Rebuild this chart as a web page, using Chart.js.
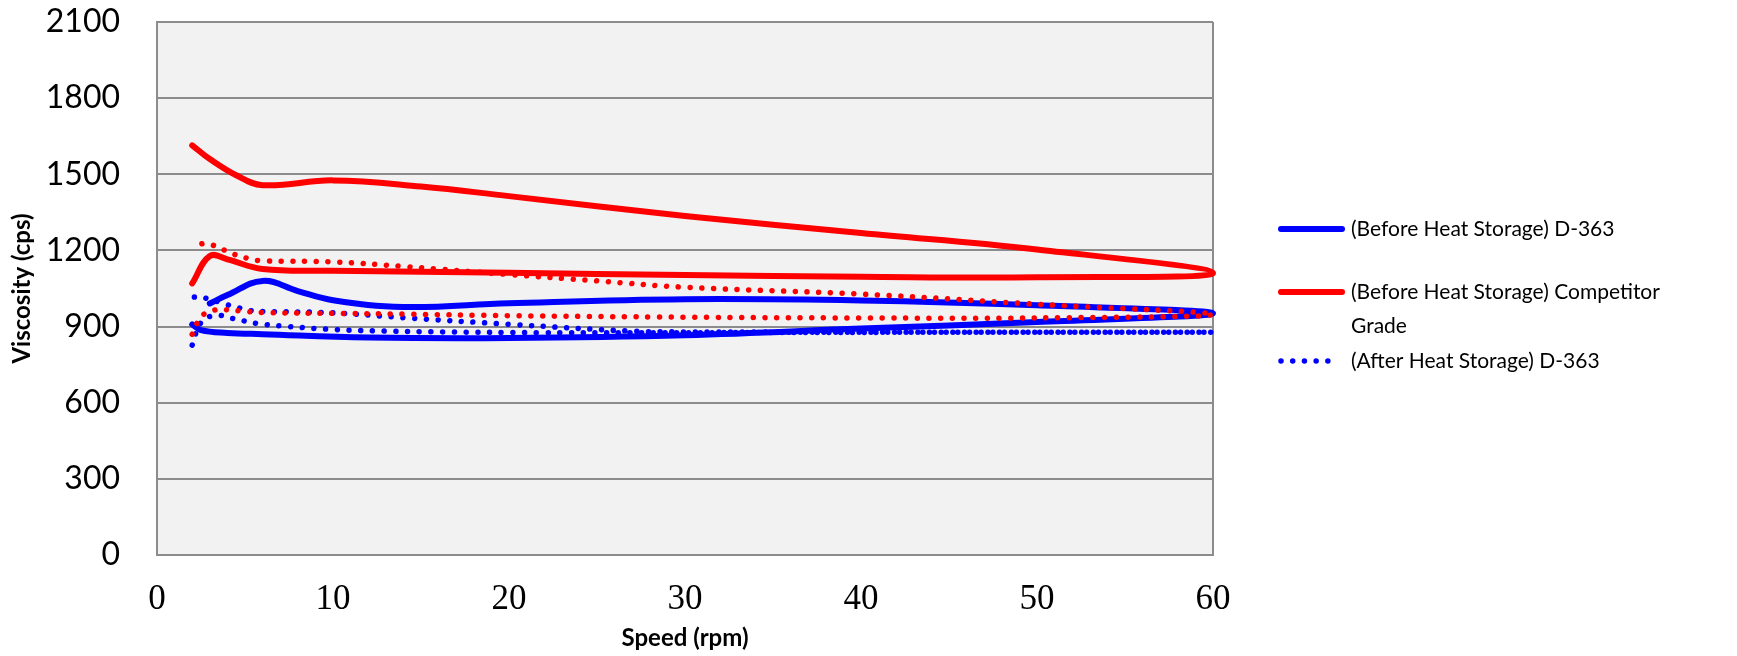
<!DOCTYPE html>
<html>
<head>
<meta charset="utf-8">
<script src="https://cdn.jsdelivr.net/npm/chart.js@4/dist/chart.umd.min.js"></script>
<style>
  html, body { margin: 0; padding: 0; background: #fff; }
  #wrap { position: relative; width: 1737px; height: 656px; }
</style>
</head>
<body>
<div id="wrap"><canvas id="viscosity-chart"></canvas></div>
<script>
// Values. Each run goes up in speed to 60 rpm and back down again.
const speedBeforeD363 = [2, 2.5, 4, 6, 12, 20, 30, 40, 50, 60, 50, 40, 30, 20, 14, 10, 8, 6, 4, 3];
const viscBeforeD363 = [909, 886, 875, 870, 857, 855, 866, 892, 918, 952, 984, 1003, 1008, 992, 977, 1004, 1040, 1080, 1024, 991];

const speedBeforeComp = [2, 3, 4, 6, 10, 20, 30, 40, 50, 60, 50, 40, 30, 20, 15, 10, 6, 4.5, 3, 2];
const viscBeforeComp = [1070, 1178, 1165, 1127, 1120, 1112, 1103, 1096, 1094, 1111, 1204, 1269, 1336, 1414, 1452, 1476, 1457, 1496, 1560, 1614];

const speedAfterD363 = [2, 2.5, 3.3, 4.3, 5.7, 7, 9.6, 12.3, 16.3, 21.7, 30, 40, 50, 60, 50, 40, 30, 27, 20, 14, 10, 5.9, 5.2, 4.6, 3.9, 2.7, 2];
const viscAfterD363 = [827, 916, 944, 932, 912, 903, 890, 883, 879, 876, 876, 877, 878, 878, 878, 878, 879, 882, 909, 935, 954, 960, 964, 975, 988, 1013, 1017];

const speedAfterComp = [2, 2.5, 3.1, 3.7, 4.8, 6.2, 10, 14, 20, 30, 40, 50, 60, 50, 40, 30, 25, 20, 14, 10, 6, 5.2, 4.5, 3.9, 3.3, 2.7, 2];
const viscAfterComp = [870, 938, 962, 967, 961, 955, 952, 949, 943, 937, 934, 934, 948, 988, 1028, 1055, 1080, 1105, 1137, 1155, 1159, 1168, 1182, 1199, 1218, 1227, 1216];

const seriesNames = [
  '(Before Heat Storage) D-363',
  '(Before Heat Storage) Competitor Grade',
  '(After Heat Storage) D-363',
  '(After Heat Storage) Competitor Grade'
];

const speedTicks = [0, 10, 20, 30, 40, 50, 60];
const viscTicks = [0, 300, 600, 900, 1200, 1500, 1800, 2100];

const toPoints = (xs, ys) => xs.map((x, i) => ({ x, y: ys[i] }));

const BLUE = '#0000ff';
const RED = '#ff0000';
const GRID = '#8c8c8c';
const DOTS = [0.01, 11.7];

// Plot background and the right-hand frame line
const plotFrame = {
  id: 'plotFrame',
  beforeDraw(chart) {
    const { ctx, chartArea: a } = chart;
    ctx.save();
    ctx.fillStyle = '#f2f2f2';
    ctx.fillRect(a.left, a.top, a.right - a.left, a.bottom - a.top);
    ctx.restore();
  },
  beforeDatasetsDraw(chart) {
    const { ctx, chartArea: a } = chart;
    ctx.save();
    ctx.strokeStyle = GRID;
    ctx.lineWidth = 2;
    ctx.beginPath();
    ctx.moveTo(a.right, a.top);
    ctx.lineTo(a.right, a.bottom);
    ctx.stroke();
    ctx.restore();
  }
};

// Legend on the right, the last series is left out like in the original
const legendRows = [
  { dataset: 0, y: 229, lines: ['(Before Heat Storage) D-363'] },
  { dataset: 1, y: 292, lines: ['(Before Heat Storage) Competitor', 'Grade'] },
  { dataset: 2, y: 361, lines: ['(After Heat Storage) D-363'] }
];

const sideLegend = {
  id: 'sideLegend',
  afterDraw(chart) {
    const { ctx } = chart;
    ctx.save();
    ctx.font = '21px Lato';
    ctx.textBaseline = 'middle';
    legendRows.forEach(row => {
      const ds = chart.data.datasets[row.dataset];
      ctx.strokeStyle = ds.borderColor;
      ctx.lineWidth = ds.borderWidth;
      ctx.lineCap = 'round';
      ctx.setLineDash(ds.borderDash || []);
      ctx.beginPath();
      ctx.moveTo(1281, row.y);
      ctx.lineTo(ds.borderDash ? 1338 : 1342, row.y);
      ctx.stroke();
      ctx.setLineDash([]);
      ctx.fillStyle = '#000';
      row.lines.forEach((t, i) => ctx.fillText(t, 1351, row.y + i * 34));
    });
    ctx.restore();
  }
};

const ctx = document.getElementById('viscosity-chart');

new Chart(ctx, {
  type: 'scatter',
  data: {
    datasets: [
      {
        label: seriesNames[0],
        data: toPoints(speedBeforeD363, viscBeforeD363),
        borderColor: BLUE,
        borderWidth: 6,
        order: 4
      },
      {
        label: seriesNames[1],
        data: toPoints(speedBeforeComp, viscBeforeComp),
        borderColor: RED,
        borderWidth: 6,
        order: 3
      },
      {
        label: seriesNames[2],
        data: toPoints(speedAfterD363, viscAfterD363),
        borderColor: BLUE,
        borderWidth: 5.5,
        borderDash: DOTS,
        order: 2
      },
      {
        label: seriesNames[3],
        data: toPoints(speedAfterComp, viscAfterComp),
        borderColor: RED,
        borderWidth: 5.5,
        borderDash: DOTS,
        order: 1
      }
    ].map(ds => Object.assign({
      showLine: true,
      tension: 0.4,
      pointRadius: 0,
      pointHoverRadius: 0,
      borderCapStyle: 'round',
      borderJoinStyle: 'round',
      backgroundColor: ds.borderColor,
      clip: 10
    }, ds))
  },
  options: {
    responsive: true,
    maintainAspectRatio: false,
    animation: false,
    layout: {
      padding: { top: 22, right: 524, left: 0, bottom: 0 }
    },
    scales: {
      x: {
        type: 'linear',
        min: 0,
        max: 60,
        afterBuildTicks: (scale) => { scale.ticks = speedTicks.map(v => ({ value: v })); },
        afterFit: (scale) => { scale.height = 101; },
        grid: { display: false, drawTicks: false },
        border: { display: true, color: GRID, width: 2 },
        ticks: {
          color: '#000',
          padding: 24,
          maxRotation: 0,
          font: { family: 'Liberation Serif', size: 35 }
        },
        title: {
          display: true,
          text: 'Speed (rpm)',
          color: '#000',
          font: { family: 'Lato', size: 24, weight: 'bold' },
          padding: { top: 0, bottom: 3 }
        }
      },
      y: {
        type: 'linear',
        min: 0,
        max: 2100,
        afterBuildTicks: (scale) => { scale.ticks = viscTicks.map(v => ({ value: v })); },
        afterFit: (scale) => {
          scale.width = 157;
          // the label padding must not push the plot top down
          scale.paddingTop = 0;
          scale.paddingBottom = 0;
        },
        grid: { color: GRID, lineWidth: 2, drawTicks: false },
        border: { display: true, color: GRID, width: 2 },
        ticks: {
          color: '#000',
          padding: 37,
          font: { family: 'Lato', size: 32 },
          callback: (value) => String(value)
        },
        title: {
          display: true,
          text: 'Viscosity (cps)',
          color: '#000',
          font: { family: 'Lato', size: 24, weight: 'bold' },
          padding: { top: 8, bottom: 0 }
        }
      }
    },
    plugins: {
      legend: { display: false },
      tooltip: { enabled: false }
    }
  },
  plugins: [plotFrame, sideLegend]
});
</script>
</body>
</html>
